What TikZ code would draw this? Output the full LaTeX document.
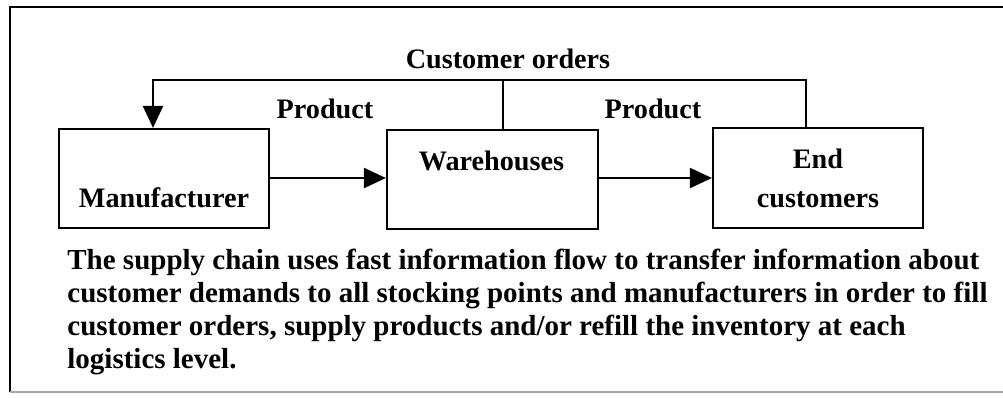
\documentclass[tikz,border=0pt]{standalone}
\usepackage{fontspec}
\setmainfont{Liberation Serif}
\usetikzlibrary{arrows.meta}
\begin{document}
\begin{tikzpicture}[x=0.5pt,y=-0.5pt,
  box/.style={draw,line width=1.1pt,inner sep=0pt},
  lbl/.style={font=\bfseries\fontsize{14.1}{17}\selectfont,inner sep=0pt},
  arr/.style={line width=1.1pt,-{Triangle[length=11pt,width=10pt]}},
  ln/.style={line width=1.1pt}]
\useasboundingbox (0,0) rectangle (1003,397);
% outer frame
\draw[line width=1.2pt] (1003,7) -- (10,7) -- (10,392);
\draw[line width=0.6pt,gray!70] (10,392) -- (1003,392);
% boxes
\node[box,minimum width=105pt,minimum height=49.5pt] (man) at (164,178.5) {};
\node[box,minimum width=105.5pt,minimum height=49.5pt] (wh) at (492.5,179.5) {};
\node[box,minimum width=105pt,minimum height=50pt] (ec) at (818,178) {};
\node[lbl,anchor=base] (mant) at (164,207) {Manufacturer};
\node[lbl,anchor=base] (wht) at (491.5,170) {Warehouses};
\node[lbl,anchor=base] (ect1) at (818,168) {End};
\node[lbl,anchor=base] (ect2) at (818,207) {customers};
% product flow
\draw[arr] (man.east |- 0,178) -- (wh.west |- 0,178);
\draw[arr] (wh.east |- 0,178) -- (ec.west |- 0,178);
\node[lbl,anchor=base] (p1) at (325,118) {Product};
\node[lbl,anchor=base] (p2) at (653,118) {Product};
% customer orders loop
\coordinate (top) at (503,80);
\draw[arr] ([xshift=-6pt]ec.north) |- ([xshift=-5.5pt]man.north |- top) -- ([xshift=-5.5pt]man.north);
\draw[ln] ([xshift=5.25pt]wh.north) -- ([xshift=5.25pt]wh.north |- top);
\node[lbl,anchor=base] (co) at (508,68) {Customer orders};
% caption
\node[font=\bfseries\fontsize{14.5}{16.5}\selectfont,inner sep=0pt,anchor=base west,align=left] (cap) at (67,368)
 {The supply chain uses fast information flow to transfer information about\\
  customer demands to all stocking points and manufacturers in order to fill\\
  customer orders, supply products and/or refill the inventory at each\\
  logistics level.};
\end{tikzpicture}
\end{document}
